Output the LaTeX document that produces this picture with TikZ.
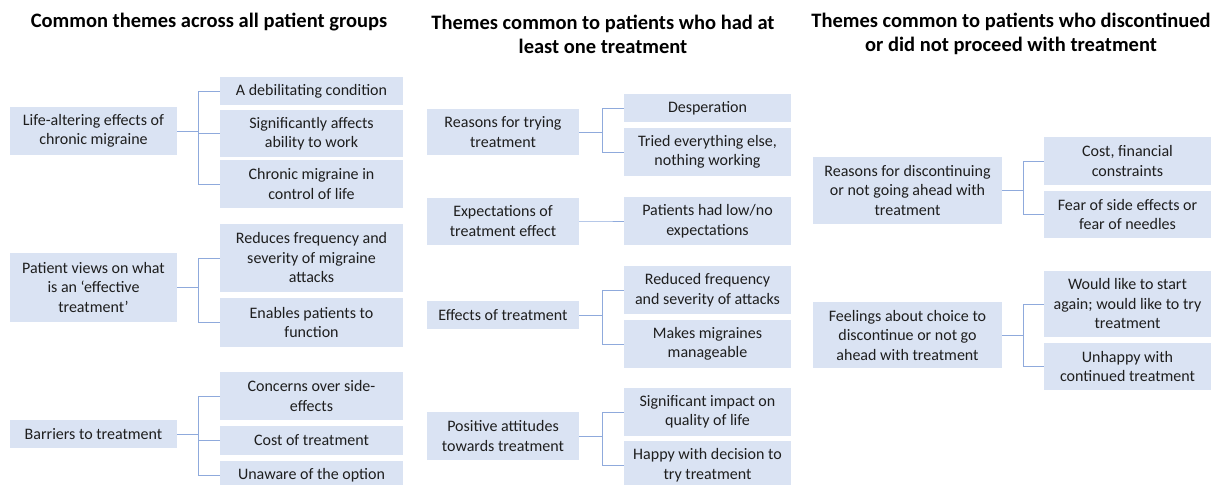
\documentclass[tikz,border=0pt]{standalone}
\usepackage{fontspec}
\setmainfont{Carlito}
\definecolor{boxblue}{RGB}{218,227,243}
\definecolor{linkblue}{RGB}{143,170,220}
\definecolor{txtgray}{RGB}{30,30,30}
\begin{document}
\begin{tikzpicture}[x=1pt,y=-1pt,
  box/.style={fill=boxblue,draw=none,inner sep=0pt,align=center,text=txtgray,
    font=\fontsize{16}{19.5}\selectfont},
  title/.style={align=center,text=black,font=\fontsize{20.5}{24}\selectfont\bfseries},
  link/.style={draw=linkblue,line width=0.9pt}]
\useasboundingbox (0,0) rectangle (1214,484);
% titles
\node[title] (t1) at (209,22) {Common themes across all patient groups};
\node[title] (t2) at (603,34) {Themes common to patients who had at\\least one treatment};
\node[title] (t3) at (1011,34) {Themes common to patients who discontinued\\or did not proceed with treatment};
% column 1
\node[box,minimum width=167,minimum height=48] (p1) at (93.5,131) {Life-altering effects of\\chronic migraine};
\node[box,minimum width=167,minimum height=69] (p2) at (93.5,287.5) {Patient views on what\\is an ‘effective\\treatment’};
\node[box,minimum width=167,minimum height=28] (p3) at (93.5,434) {Barriers to treatment};
\node[box,minimum width=183,minimum height=28] (c1a) at (311.5,91) {A debilitating condition};
\node[box,minimum width=183,minimum height=47] (c1b) at (311.5,133.5) {Significantly affects\\ability to work};
\node[box,minimum width=183,minimum height=48] (c1c) at (311.5,184) {Chronic migraine in\\control of life};
\node[box,minimum width=183,minimum height=68] (c2a) at (311.5,258) {Reduces frequency and\\severity of migraine\\attacks};
\node[box,minimum width=183,minimum height=49] (c2b) at (311.5,322.5) {Enables patients to\\function};
\node[box,minimum width=183,minimum height=48] (c3a) at (311.5,396) {Concerns over side-\\effects};
\node[box,minimum width=183,minimum height=29] (c3b) at (311.5,440.5) {Cost of treatment};
\node[box,minimum width=183,minimum height=28] (c3c) at (311.5,475) {Unaware of the option};
% column 2
\node[box,minimum width=152,minimum height=46] (q1) at (503,132) {Reasons for trying\\treatment};
\node[box,minimum width=152,minimum height=47] (q2) at (503,221) {Expectations of\\treatment effect};
\node[box,minimum width=152,minimum height=28] (q3) at (503,315) {Effects of treatment};
\node[box,minimum width=152,minimum height=48] (q4) at (503,436) {Positive attitudes\\towards treatment};
\node[box,minimum width=167,minimum height=28] (d1a) at (707.5,108) {Desperation};
\node[box,minimum width=167,minimum height=48] (d1b) at (707.5,152) {Tried everything else,\\nothing working};
\node[box,minimum width=167,minimum height=48] (d2a) at (707.5,221) {Patients had low/no\\expectations};
\node[box,minimum width=167,minimum height=48] (d3a) at (707.5,290) {Reduced frequency\\and severity of attacks};
\node[box,minimum width=167,minimum height=48] (d3b) at (707.5,344) {Makes migraines\\manageable};
\node[box,minimum width=167,minimum height=48] (d4a) at (707.5,412) {Significant impact on\\quality of life};
\node[box,minimum width=167,minimum height=48] (d4b) at (707.5,465) {Happy with decision to\\try treatment};
% column 3
\node[box,minimum width=189,minimum height=67] (r1) at (907.5,190.5) {Reasons for discontinuing\\or not going ahead with\\treatment};
\node[box,minimum width=189,minimum height=66] (r2) at (907.5,335) {Feelings about choice to\\discontinue or not go\\ahead with treatment};
\node[box,minimum width=167,minimum height=48] (e1a) at (1127.5,161) {Cost, financial\\constraints};
\node[box,minimum width=167,minimum height=47] (e1b) at (1127.5,214.5) {Fear of side effects or\\fear of needles};
\node[box,minimum width=167,minimum height=66] (e2a) at (1127.5,304) {Would like to start\\again; would like to try\\treatment};
\node[box,minimum width=167,minimum height=47] (e2b) at (1127.5,366.5) {Unhappy with\\continued treatment};
% connectors
\foreach \p/\c in {p1/c1a,p1/c1b,p1/c1c,p2/c2a,p2/c2b,p3/c3a,p3/c3b,p3/c3c}
  \draw[link] (\p.east) -- (198,0 |- \p.east) |- (\c.west);
\foreach \p/\c in {q1/d1a,q1/d1b,q2/d2a,q3/d3a,q3/d3b,q4/d4a,q4/d4b}
  \draw[link] (\p.east) -- (602,0 |- \p.east) |- (\c.west);
\foreach \p/\c in {r1/e1a,r1/e1b,r2/e2a,r2/e2b}
  \draw[link] (\p.east) -- (1023,0 |- \p.east) |- (\c.west);
\end{tikzpicture}
\end{document}
